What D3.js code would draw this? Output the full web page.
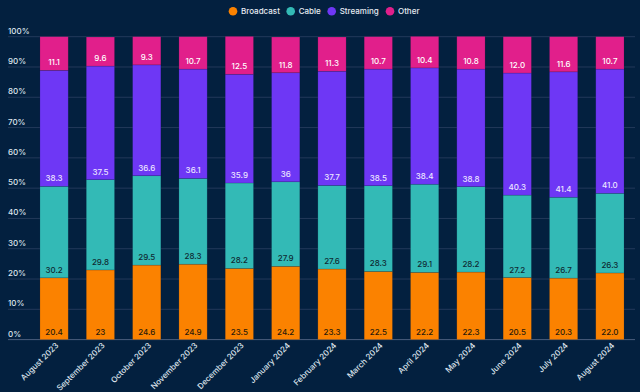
<!DOCTYPE html>
<html><head><meta charset="utf-8">
<script src="https://cdn.jsdelivr.net/npm/d3@7"></script>
<style>html,body{margin:0;padding:0;background:#03203f;}svg{display:block;}</style>
</head><body>
<svg id="chart" width="640" height="392"></svg>
<script>
const categories = ["August 2023","September 2023","October 2023","November 2023","December 2023","January 2024","February 2024","March 2024","April 2024","May 2024","June 2024","July 2024","August 2024"];
const seriesNames = ["Broadcast","Cable","Streaming","Other"];
const broadcast = ["20.4","23","24.6","24.9","23.5","24.2","23.3","22.5","22.2","22.3","20.5","20.3","22.0"];
const cable     = ["30.2","29.8","29.5","28.3","28.2","27.9","27.6","28.3","29.1","28.2","27.2","26.7","26.3"];
const streaming = ["38.3","37.5","36.6","36.1","35.9","36","37.7","38.5","38.4","38.8","40.3","41.4","41.0"];
const other     = ["11.1","9.6","9.3","10.7","12.5","11.8","11.3","10.7","10.4","10.8","12.0","11.6","10.7"];
const yTicks = [0,10,20,30,40,50,60,70,80,90,100];

const colors = ["#fb8200","#33bab6","#6e37f5","#e11f8b"];
const labelColors = ["#2a1a0a","#0f2a33","#ece6ff","#ffffff"];
const seriesData = [broadcast, cable, streaming, other];

const rows = categories.map((c,i)=>{
  const r = {cat:c};
  seriesNames.forEach((s,k)=>{ r[s] = +seriesData[k][i]; r[s+"_label"] = seriesData[k][i]; });
  return r;
});

const svg = d3.select("#chart");
const font = "Inter, 'Noto Sans', sans-serif";

const x = d3.scaleBand().domain(categories).range([30.7, 633.3]).paddingInner(0.39).paddingOuter(0.2);
const y = d3.scaleLinear().domain([0,100]).range([339.6, 36.7]);

// gridlines + y labels
const g = svg.append("g");
yTicks.forEach(t=>{
  g.append("line").attr("x1",8).attr("x2",635).attr("y1",y(t)).attr("y2",y(t))
    .attr("stroke", t===0 ? "#4b5d7c" : "#23395a").attr("stroke-width",1);
  g.append("text").attr("x",8).attr("y",y(t)-3).text(t+"%")
    .attr("fill","#dfe5ee").attr("font-family",font).attr("font-size",8).attr("font-weight",500);
});

const stack = d3.stack().keys(seriesNames)(rows);

stack.forEach((layer,k)=>{
  const lg = svg.append("g");
  lg.selectAll("rect").data(layer).enter().append("rect")
    .attr("x", d=>x(d.data.cat))
    .attr("width", x.bandwidth())
    .attr("y", d=>y(d[1]))
    .attr("height", d=>y(d[0])-y(d[1]))
    .attr("fill", colors[k])
    .attr("stroke","rgba(10,20,50,0.25)").attr("stroke-width",0.6);
  lg.selectAll("text").data(layer).enter().append("text")
    .attr("x", d=>x(d.data.cat)+x.bandwidth()/2)
    .attr("y", d=>y(d[0])-5)
    .attr("text-anchor","middle")
    .attr("fill", labelColors[k])
    .attr("font-family",font).attr("font-size",8).attr("font-weight",500)
    .text(d=>d.data[seriesNames[k]+"_label"]);
});

// x labels
svg.append("g").selectAll("text").data(categories).enter().append("text")
  .attr("transform", d=>`translate(${x(d)+x.bandwidth()/2+3},344) rotate(-45)`)
  .attr("text-anchor","end")
  .attr("dy","0.35em")
  .attr("fill","#dfe5ee").attr("font-family",font).attr("font-size",8).attr("font-weight",500)
  .text(d=>d);

// legend
const legendPos = [233, 290.7, 331.7, 390];
const lgd = svg.append("g");
seriesNames.forEach((s,k)=>{
  lgd.append("circle").attr("cx",legendPos[k]).attr("cy",11.3).attr("r",4.3).attr("fill",colors[k]);
  lgd.append("text").attr("x",legendPos[k]+8).attr("y",11.3).attr("dy","0.35em")
    .attr("fill","#e6ebf2").attr("font-family",font).attr("font-size",8).attr("font-weight",500).text(s);
});
</script>
</body></html>
